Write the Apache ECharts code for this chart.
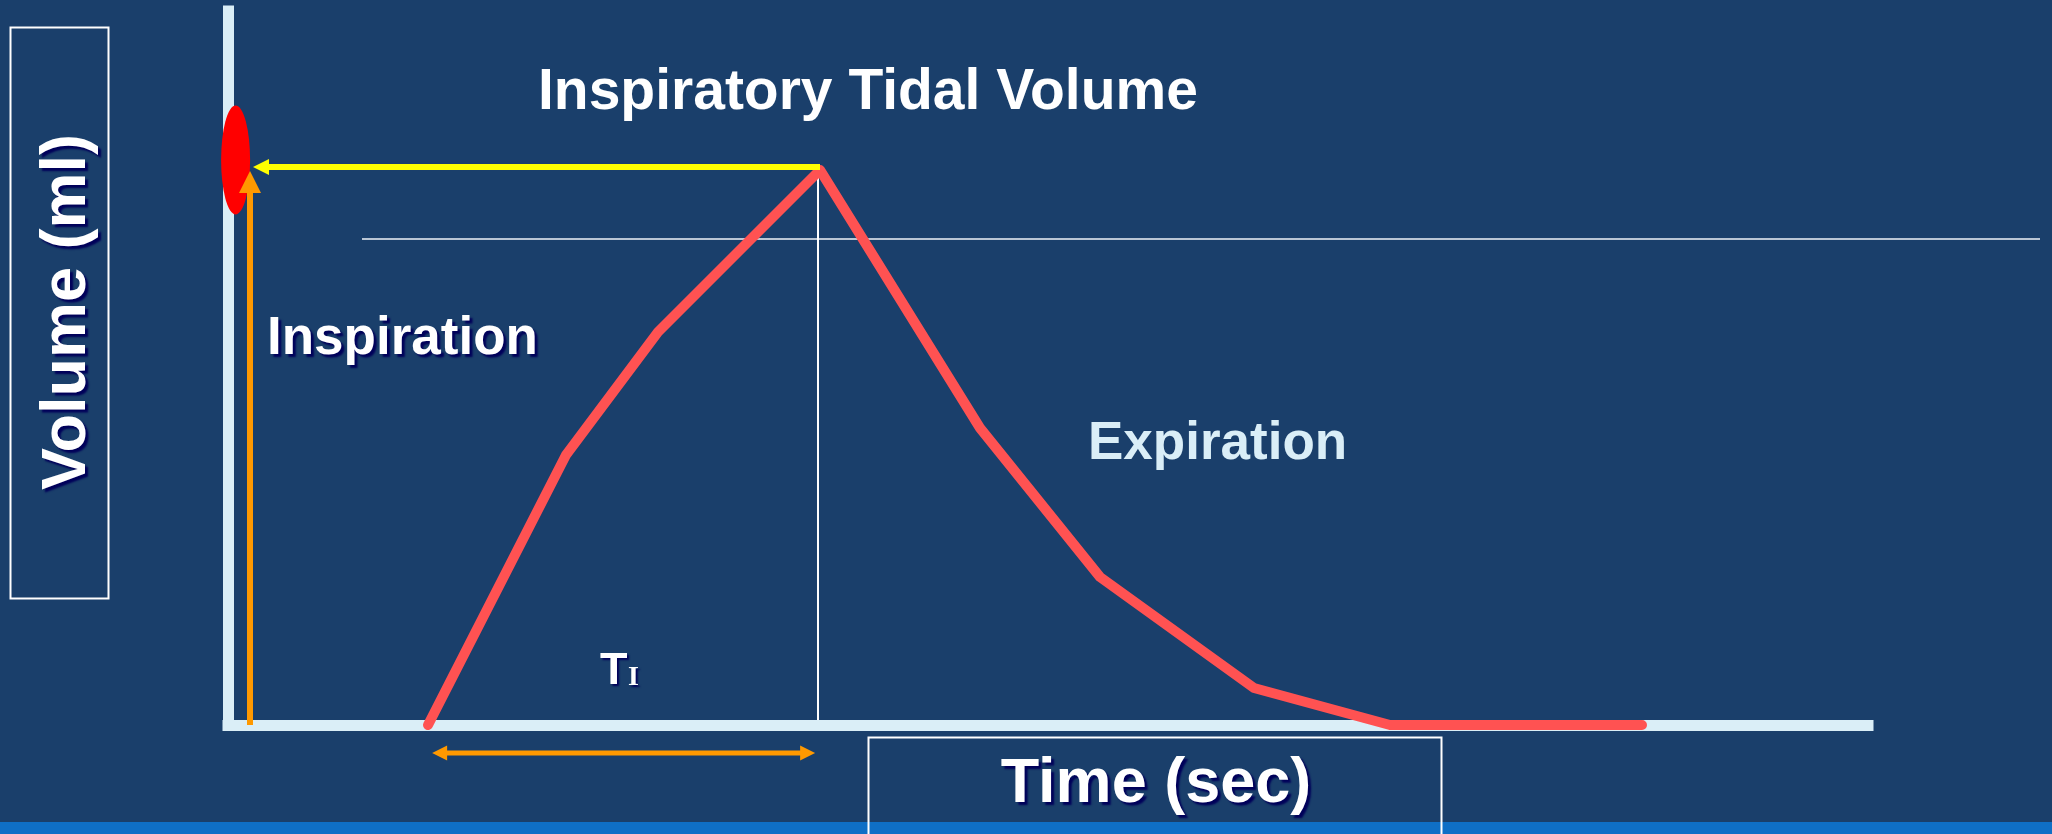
<!DOCTYPE html>
<html>
<head>
<meta charset="utf-8">
<title>Inspiratory Tidal Volume</title>
<script src="https://cdn.jsdelivr.net/npm/echarts@6/dist/echarts.min.js"></script>
<style>
  html, body { margin: 0; padding: 0; background: #1a3f6b; }
  #chart { width: 2052px; height: 834px; }
</style>
</head>
<body>
<div id="chart"></div>
<script>
// volume curve (time in sec, volume in ml)
const times = [0.50, 0.845, 1.075, 1.48, 1.88, 2.18, 2.565, 2.905, 3.535]
const volumes = [0, 270, 393, 555, 297, 148, 37, 0, 0]

// annotation levels, in the same units
const peakTime = 1.475
const peakLevel = 558      // yellow arrow / vertical guide
const guideLevel = 486     // thin horizontal line
const guideFrom = 0.335
const guideTo = 4.53
const markerVolume = 565   // red marker on the volume axis
const tiFrom = 0.529       // T_I double arrow
const tiTo = 1.449
const tiLevel = -28

const font = 'Liberation Sans, Arial, sans-serif'
const shadow = { textShadowColor: '#00005a', textShadowBlur: 2, textShadowOffsetX: 3, textShadowOffsetY: 3 }

function label(text, x, y, size, color, extra) {
  return {
    type: 'text',
    x: x,
    y: y,
    silent: true,
    style: Object.assign({
      text: text,
      font: 'bold ' + size + 'px ' + font,
      fill: color,
      align: 'left',
      textAlign: 'left',
      verticalAlign: 'middle',
      textVerticalAlign: 'middle'
    }, extra || {})
  }
}

function head(point, size, rotate, color) {
  return {
    type: 'scatter',
    data: [point],
    symbol: 'triangle',
    symbolSize: size,
    symbolRotate: rotate,
    itemStyle: { color: color, opacity: 1 },
    clip: false,
    silent: true,
    z: 5
  }
}

function segment(points, width, color, z) {
  return {
    type: 'line',
    data: points,
    symbol: 'none',
    lineStyle: { width: width, color: color },
    clip: false,
    silent: true,
    z: z
  }
}

const chart = echarts.init(document.getElementById('chart'))

const hiddenAxis = {
  show: false,
  type: 'value',
  min: 0,
  axisLine: { show: false },
  splitLine: { show: false }
}

const option = {
  backgroundColor: '#1a3f6b',
  animation: false,
  grid: [
    { left: 228, top: 11, right: 184, bottom: 109 },
    // same scale, wider: carries the guide line past the time axis end
    { left: 228, top: 11, right: 12, bottom: 109 }
  ],
  xAxis: [
    {
      type: 'value',
      min: 0,
      max: 4.1,
      axisLine: { onZero: false, lineStyle: { color: '#daeef7', width: 11, cap: 'square' } },
      axisTick: { show: false },
      axisLabel: { show: false },
      splitLine: { show: false }
    },
    Object.assign({ gridIndex: 1, max: guideTo }, hiddenAxis)
  ],
  yAxis: [
    {
      type: 'value',
      min: 0,
      max: 714,
      axisLine: { show: true, onZero: false, lineStyle: { color: '#daeef7', width: 11, cap: 'square' } },
      axisTick: { show: false },
      axisLabel: { show: false },
      splitLine: { show: false }
    },
    Object.assign({ gridIndex: 1, max: 714 }, hiddenAxis)
  ],
  series: [
    // red marker on the volume axis
    {
      type: 'scatter',
      data: [[0.019, markerVolume]],
      symbol: 'circle',
      symbolSize: [29, 109],
      itemStyle: { color: '#ff0000', opacity: 1 },
      clip: false,
      silent: true,
      z: 3
    },
    Object.assign(segment([[guideFrom, guideLevel], [guideTo, guideLevel]], 1.5, '#f0f4f8', 2),
      { xAxisIndex: 1, yAxisIndex: 1 }),
    segment([[peakTime, peakLevel], [peakTime, 5]], 2, '#ffffff', 2),
    {
      type: 'line',
      data: times.map((t, i) => [t, volumes[i]]),
      symbol: 'none',
      lineStyle: { width: 10, color: '#ff5252', cap: 'round', join: 'round' },
      clip: false,
      silent: true,
      z: 3
    },
    // yellow arrow to the volume axis
    segment([[1.48, peakLevel], [0.0825, peakLevel]], 6, '#ffff00', 4),
    head([0.0825, peakLevel], [16, 16], 90, '#ffff00'),
    // orange inspiration arrow
    segment([[0.055, 0], [0.055, 543]], 6, '#ff9900', 4),
    head([0.055, 543], [22, 22], 0, '#ff9900'),
    // T_I double arrow
    segment([[tiFrom, tiLevel], [tiTo, tiLevel]], 5, '#ff9900', 4),
    head([tiFrom, tiLevel], [15, 15], 90, '#ff9900'),
    head([tiTo, tiLevel], [15, 15], -90, '#ff9900')
  ],
  graphic: {
    elements: [
      {
        type: 'rect',
        silent: true,
        shape: { x: 0, y: 822, width: 2052, height: 12 },
        style: { fill: '#0f6fc6' }
      },
      {
        type: 'rect',
        silent: true,
        shape: { x: 10.5, y: 27.5, width: 98, height: 571 },
        style: { fill: 'none', stroke: '#ffffff', lineWidth: 2 }
      },
      {
        type: 'rect',
        silent: true,
        shape: { x: 868.5, y: 737.5, width: 573, height: 120 },
        style: { fill: 'none', stroke: '#ffffff', lineWidth: 2 }
      },
      Object.assign(label('Volume (ml)', 68, 312, 63, '#ffffff',
        Object.assign({ align: 'center', textAlign: 'center' }, shadow)), { rotation: Math.PI / 2 }),
      label('Time (sec)', 1156, 785, 63, '#ffffff',
        Object.assign({ align: 'center', textAlign: 'center' }, shadow)),
      label('Inspiratory Tidal Volume', 538, 93, 57, '#ffffff'),
      label('Inspiration', 267, 339, 53, '#ffffff', shadow),
      label('Expiration', 1088, 444, 53, '#daeef7'),
      label('T', 600, 672, 45, '#ffffff',
        { textShadowColor: '#00005a', textShadowBlur: 2, textShadowOffsetX: 2, textShadowOffsetY: 2 }),
      {
        type: 'text',
        x: 628,
        y: 678,
        silent: true,
        style: {
          text: 'I',
          font: 'bold 28px Liberation Serif, serif',
          fill: '#ffffff',
          align: 'left',
          textAlign: 'left',
          verticalAlign: 'middle',
          textVerticalAlign: 'middle',
          textShadowColor: '#00005a',
          textShadowBlur: 2,
          textShadowOffsetX: 2,
          textShadowOffsetY: 2
        }
      }
    ]
  }
}

chart.setOption(option)

window.addEventListener('resize', () => {
  chart.resize()
})
</script>
</body>
</html>
